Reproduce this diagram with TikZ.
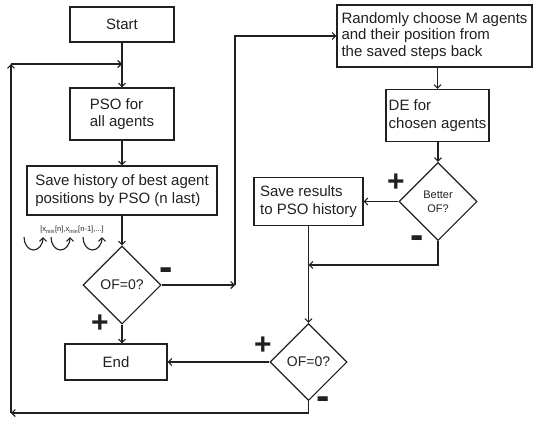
\documentclass[tikz,border=0pt]{standalone}
\usepackage{fontspec}
\setmainfont{Liberation Sans}
\usetikzlibrary{arrows.meta, shapes.geometric}

\definecolor{inkblack}{RGB}{35,31,32}

\begin{document}
\begin{tikzpicture} [x=1pt, y=-1pt,
		% define styles
		boxnodestyle/.style={
			% The shape:
			rectangle,
			% The border:
			line width=1.1pt,
			draw=inkblack,
			% Text
			text=inkblack,
			align=left,
			inner sep=2pt,
			% Font
			font=\fontsize{15}{17.5}\selectfont
		},
		decisionnodestyle/.style={
			% The shape:
			diamond,
			aspect=1,
			inner sep=0pt,
			% The size:
			minimum size=78pt,
			% The border:
			line width=1.1pt,
			draw=inkblack,
			text=inkblack,
			align=center,
			% Font
			font=\fontsize{14}{17}\selectfont
		},
		plusnodestyle/.style={
			text=inkblack,
			inner sep=0pt,
			font=\bfseries\fontsize{30}{30}\selectfont
		},
		minusnodestyle/.style={
			text=inkblack,
			inner sep=0pt,
			font=\bfseries\fontsize{40}{40}\selectfont
		},
		arrow/.style={
			->,
			% Thickness
			line width=1.1pt,
			>={Straight Barb[length=3.5pt,width=7pt]},
			% Color
			inkblack
		}]
		% end of style definition

		\useasboundingbox (0,0) rectangle (535,423);

		% draw nodes
		\node (iStart) [boxnodestyle, minimum width=104pt, minimum height=35pt] at (122,24.5) {Start};
		\node (iPSO) [boxnodestyle, minimum width=104pt, minimum height=52pt] at (122,114) {PSO for\\all agents};
		\node (iHistory) [boxnodestyle, minimum width=190pt, minimum height=49pt] at (122,190.5) {Save history of best agent\\positions by PSO (n last)};
		\node (iCheck1) [decisionnodestyle] at (122,285) {OF=0?};
		\node (iEnd) [boxnodestyle, minimum width=102pt, minimum height=36pt] at (116,362) {End};

		\node (iRandom) [boxnodestyle, minimum width=195pt, minimum height=62pt, font=\fontsize{15}{16.5}\selectfont] at (434.5,36) {Randomly choose M agents\\and their position from\\the saved steps back};
		\node (iDE) [boxnodestyle, minimum width=103pt, minimum height=52pt] at (437.5,115.5) {DE for\\chosen agents};
		\node (iBetter) [decisionnodestyle, font=\fontsize{11}{14}\selectfont] at (438,201.5) {Better\\OF?};
		\node (iSaveRes) [boxnodestyle, minimum width=109pt, minimum height=48pt] at (308.5,201.5) {Save results\\to PSO history};
		\node (iCheck2) [decisionnodestyle, minimum size=77pt] at (308.5,362) {OF=0?};

		% history of positions
		\node (iHistText) [text=inkblack, inner sep=0pt, font=\fontsize{7.5}{9}\selectfont] at (72,230) {[x\textsubscript{min}[n],x\textsubscript{min}[n-1],...]};
		\foreach \xa in {24,51,83}
			\draw [arrow] (\xa,237) arc [start angle=180, end angle=0, x radius=9.5, y radius=13];

		% yes / no signs
		\node (lCheck1No) [minusnodestyle] at (166,274) {-};
		\node (lCheck1Yes) [plusnodestyle] at (100,324) {+};
		\node (lBetterYes) [plusnodestyle] at (396,183) {+};
		\node (lBetterNo) [minusnodestyle] at (417,242) {-};
		\node (lCheck2Yes) [plusnodestyle] at (263,346) {+};
		\node (lCheck2No) [minusnodestyle] at (323,403) {-};

		% corner points
		\coordinate (jRight) at (235,285);
		\coordinate (jMerge) at (308.5,265);
		\coordinate (jBottom) at (11,413);
		\coordinate (jTop) at (11,64);
		\coordinate (jLoop) at (122,64);

		% connect nodes
		\draw [arrow] (iStart) -- (iPSO);
		\draw [arrow] (iPSO) -- (iHistory);
		\draw [arrow] (iHistory) -- (iCheck1);
		\draw [arrow] (iCheck1.south) -- (iCheck1.south |- iEnd.north);
		\draw [arrow] (iCheck1) -- (jRight);
		\draw [arrow] (jRight) |- (iRandom.west);
		\draw [arrow] (iDE.north |- iRandom.south) -- (iDE.north);
		\draw [arrow] (iBetter.north |- iDE.south) -- (iBetter.north);
		\draw [arrow] (iBetter) -- (iSaveRes);
		\draw [arrow] (iBetter.south) |- (jMerge);
		\draw [arrow] (iSaveRes) -- (iCheck2);
		\draw [arrow] (iCheck2) -- (iEnd);
		\draw [arrow] (iCheck2.south) |- (jBottom);
		\draw [arrow] (jBottom) -- (jTop);
		\draw [arrow] (jTop) -- (jLoop);
	\end{tikzpicture}
\end{document}
